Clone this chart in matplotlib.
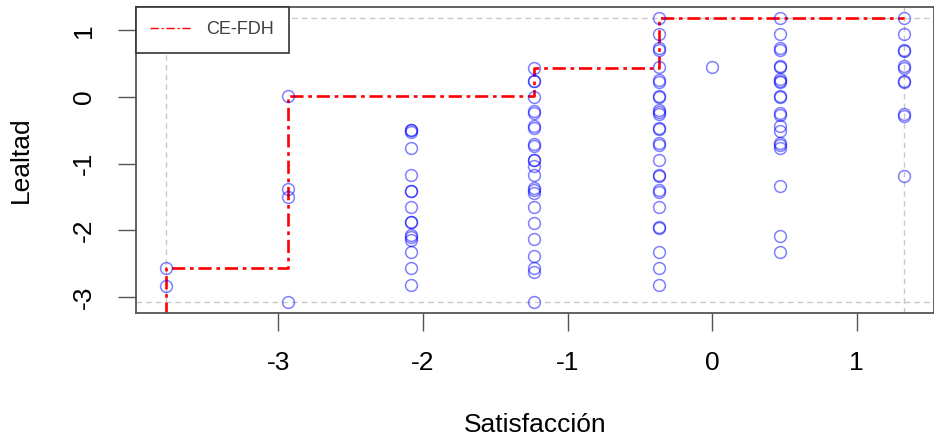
import numpy as np
import matplotlib
matplotlib.use("Agg")
import matplotlib.pyplot as plt
from matplotlib.lines import Line2D

plt.rcParams['font.family'] = ['Liberation Sans', 'DejaVu Sans']
plt.rcParams['axes.unicode_minus'] = False

# Satisfacción levels (x) and the Lealtad values observed at each level
sat_levels = [-3.78, -2.93, -2.08, -1.23, -0.37, 0.0, 0.47, 1.33]
lealtad = [
    [-2.56, -2.84],
    [0.02, -1.38, -1.50, -3.07],
    [-0.49, -0.49, -0.53, -0.76, -1.17, -1.41, -1.41, -1.65, -1.87, -1.87,
     -2.07, -2.10, -2.14, -2.33, -2.57, -2.82],
    [0.44, 0.24, 0.24, 0.0, -0.21, -0.24, -0.44, -0.47, -0.70, -0.73, -0.94,
     -0.94, -1.04, -1.17, -1.37, -1.40, -1.44, -1.65, -1.89, -2.13, -2.38,
     -2.57, -2.63, -3.07],
    [1.18, 0.94, 0.71, 0.73, 0.45, 0.25, 0.22, 0.0, 0.02, -0.20, -0.22,
     -0.25, -0.46, -0.48, -0.69, -0.72, -0.94, -1.17, -1.19, -1.39, -1.43,
     -1.65, -1.95, -1.96, -2.33, -2.57, -2.82],
    [0.45],
    [1.18, 0.94, 0.71, 0.74, 0.45, 0.47, 0.24, 0.27, 0.22, 0.0, 0.02, -0.24,
     -0.27, -0.44, -0.51, -0.69, -0.72, -0.76, -1.34, -2.08, -2.33],
    [1.18, 0.94, 0.71, 0.69, 0.47, 0.44, 0.24, 0.22, -0.25, -0.28, -1.18],
]

x = np.concatenate([[lv] * len(v) for lv, v in zip(sat_levels, lealtad)])
y = np.concatenate(lealtad)

# CE-FDH ceiling: running max of y over sorted x levels
levels = np.array(sorted(set(x)))
ceil = np.maximum.accumulate([y[x == lv].max() for lv in levels])

xmin, xmax = x.min(), x.max()
ymin, ymax = y.min(), y.max()
xpad = 0.04 * (xmax - xmin)
ypad = 0.04 * (ymax - ymin)

fig = plt.figure(figsize=(9.34, 4.46), dpi=100)
ax = fig.add_axes([136 / 934, 133 / 446, 798 / 934, 306 / 446])

# reference lines at data min / max
for v in (xmin, xmax):
    ax.axvline(v, color='#c8c8c8', linestyle=(0, (4, 3)), linewidth=1, zorder=1)
for v in (ymin, ymax):
    ax.axhline(v, color='#c8c8c8', linestyle=(0, (4, 3)), linewidth=1, zorder=1)

ax.plot(x, y, 'o', markersize=8.5, markerfacecolor='none',
        markeredgecolor=(0, 0, 1, 0.5), markeredgewidth=1.1, zorder=3)

step_x = np.concatenate([[levels[0]], levels, [xmax]])
step_y = np.concatenate([[ymin - 1], ceil, [ceil[-1]]])
ax.plot(step_x, step_y, drawstyle='steps-post', color='red', linewidth=1.9,
        linestyle=(0, (5, 1.8, 1.4, 1.8)), zorder=2)

# legend entry drawn with thin line like the R legend
h = Line2D([], [], color='red', linewidth=1, linestyle=(0, (6, 2, 1.5, 2)))
leg = ax.legend([h], ['CE-FDH'], loc='upper left', bbox_to_anchor=(0, 1),
                borderaxespad=0, fancybox=False, framealpha=1,
                edgecolor='#333333', fontsize=13, handlelength=2.2,
                handletextpad=0.9, borderpad=0.8, labelcolor='#404040')
leg.get_frame().set_linewidth(1.2)

ax.set_xlim(xmin - xpad, xmax + xpad)
ax.set_ylim(ymin - ypad, ymax + ypad)
ax.set_xticks([-3, -2, -1, 0, 1])
ax.set_yticks([-3, -2, -1, 0, 1])
ax.tick_params(axis='both', length=13, width=1, color='#555555',
               labelsize=19)
ax.tick_params(axis='x', pad=14)
ax.tick_params(axis='y', pad=16)
for lab in ax.get_yticklabels():
    lab.set_rotation(90)
    lab.set_va('center')
for s in ax.spines.values():
    s.set_color('#555555')
    s.set_linewidth(1.3)

ax.set_xlabel('Satisfacción', fontsize=19, labelpad=28)
ax.set_ylabel('Lealtad', fontsize=19, labelpad=28)

fig.savefig('out.png', dpi=100)
